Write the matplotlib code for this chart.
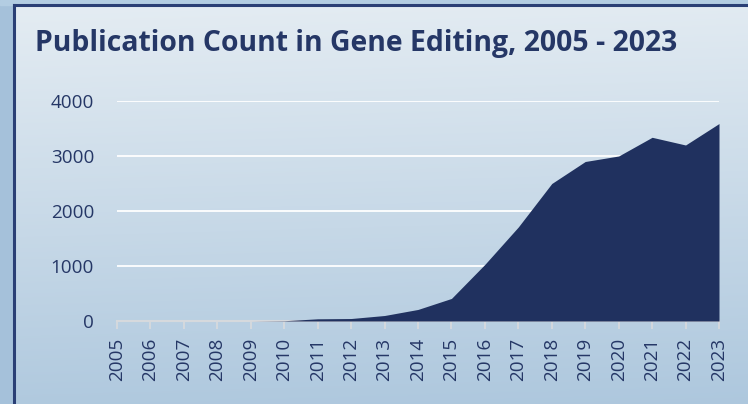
"""
Publication count in gene editing, 2005-2023 - area chart on a gradient panel.
Saída: out.png
"""
import numpy as np
import matplotlib.pyplot as plt
import matplotlib as mpl
from matplotlib.patches import Rectangle

mpl.rcParams.update({
    'font.family': ['Open Sans', 'DejaVu Sans'],
})

# ── Dados ─────────────────────────────────────────────────────────────────────
years = [2005, 2006, 2007, 2008, 2009, 2010, 2011, 2012, 2013, 2014,
         2015, 2016, 2017, 2018, 2019, 2020, 2021, 2022, 2023]
counts = [0, 0, 0, 0, 0, 5, 40, 45, 100, 210,
          410, 1030, 1710, 2500, 2900, 3000, 3340, 3200, 3590]
y_ticks = [0, 1000, 2000, 3000, 4000]
title = 'Publication Count in Gene Editing, 2005 - 2023'

# ── Cores ─────────────────────────────────────────────────────────────────────
navy = '#20315f'
text_col = '#253766'
border_col = '#2a3f75'

W, H, DPI = 748, 404, 100
fig = plt.figure(figsize=(W / DPI, H / DPI), dpi=DPI)

# fundo externo + painel com gradiente
bg = fig.add_axes([0, 0, 1, 1], zorder=-10)
bg.set_axis_off()
yy, xx = np.mgrid[0:1:200j, 0:1:300j]
t = np.clip(0.85 * yy + 0.15 * xx * 0.3, 0, 1)
top = np.array([0.898, 0.929, 0.953])
bot = np.array([0.655, 0.765, 0.859])
grad = top[None, None, :] * (1 - t[..., None]) + bot[None, None, :] * t[..., None]
bg.imshow(grad, extent=[0, W, H, 0], aspect='auto')
bg.add_patch(Rectangle((0, 0), 13, H, color='#a5c1da', zorder=1))
bg.add_patch(Rectangle((0, 0), W, 5, color='#b3cde2', zorder=1))
bg.plot([14, 14], [H + 5, 5], color=border_col, lw=2.2, zorder=3)
bg.plot([14, W + 5], [5, 5], color=border_col, lw=2.2, zorder=3)
bg.set_xlim(0, W)
bg.set_ylim(H, 0)

fig.text(35 / W, 1 - 44 / H, title, fontsize=20.4, fontweight='bold',
         color=text_col, va='center', ha='left')

# ── Gráfico de área ───────────────────────────────────────────────────────────
ax = fig.add_axes([117 / W, 1 - 321 / H, (719 - 117) / W, (321 - 101) / H])
ax.patch.set_alpha(0)
ax.fill_between(years, counts, 0, color=navy, lw=0, zorder=3)
ax.set_xlim(years[0], years[-1])
ax.set_ylim(0, 4000)
ax.set_yticks(y_ticks)
ax.set_xticks(years)
ax.set_xticklabels([str(y) for y in years], rotation=90)
for s in ['top', 'right', 'left']:
    ax.spines[s].set_visible(False)
ax.spines['bottom'].set_color('#d6d9dd')
ax.spines['bottom'].set_linewidth(1.5)
ax.spines['bottom'].set_zorder(2)
ax.tick_params(axis='y', length=0, pad=16.5, labelsize=13.6, labelcolor=text_col)
ax.tick_params(axis='x', length=6, width=1.3, color='#d6d9dd', pad=6,
               labelsize=13.6, labelcolor=text_col)
ax.yaxis.grid(True, color='white', linewidth=1.3, zorder=1)
ax.set_axisbelow(True)

fig.savefig('out.png', dpi=DPI)
